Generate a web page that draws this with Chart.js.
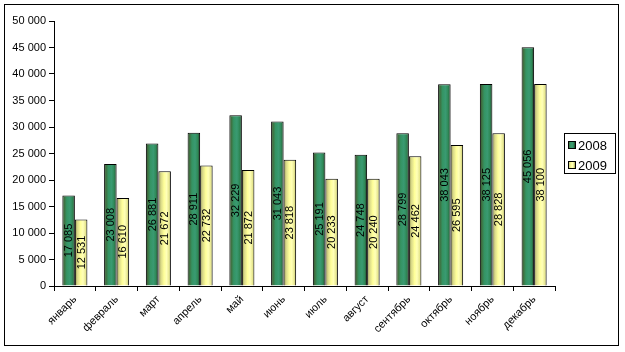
<!DOCTYPE html>
<html><head><meta charset="utf-8">
<script src="https://cdn.jsdelivr.net/npm/chart.js@4/dist/chart.umd.min.js"></script>
<style>html,body{margin:0;padding:0;background:#fff}#wrap{width:625px;height:352px;position:relative}</style>
</head><body><div id="wrap"><canvas id="c" width="625" height="352"></canvas></div>
<script>
const categories = ['январь','февраль','март','апрель','май','июнь','июль','август','сентябрь','октябрь','ноябрь','декабрь'];
const series2008 = [17085, 23008, 26881, 28911, 32229, 31043, 25191, 24748, 28799, 38043, 38125, 45056];
const series2009 = [12531, 16610, 21672, 22732, 21872, 23818, 20233, 20240, 24462, 26595, 28828, 38100];
const seriesNames = ['2008', '2009'];
const yTicks = [0, 5000, 10000, 15000, 20000, 25000, 30000, 35000, 40000, 45000, 50000];

const FONT = '"Liberation Sans", Arial, sans-serif';
const CAT_PCT = 0.6;
const gradStops = [
  [[0,'#2b4f2c'],[0.15,'#3f6f3f'],[0.35,'#349463'],[0.6,'#3a9a72'],[0.8,'#2f8a58'],[1,'#263f28']],
  [[0,'#8d8d4a'],[0.2,'#d8d888'],[0.45,'#ffff99'],[0.65,'#ffffb8'],[0.85,'#e8e890'],[1,'#9a9a55']]
];
const solid = ['#339966', '#ffff99'];

function fmt(v){ return String(v).replace(/\B(?=(\d{3})+(?!\d))/g, ' '); }

function barFill(c){
  const chart = c.chart, xs = chart.scales && chart.scales.x;
  if (!xs || !chart.chartArea || c.dataIndex === undefined) return solid[c.datasetIndex];
  const catW = xs.width / categories.length;
  const barW = catW * CAT_PCT / 2;
  const center = xs.getPixelForValue(c.dataIndex);
  const left = center - catW * CAT_PCT / 2 + c.datasetIndex * barW;
  const g = chart.ctx.createLinearGradient(left, 0, left + barW, 0);
  gradStops[c.datasetIndex].forEach(s => g.addColorStop(s[0], s[1]));
  return g;
}

const extras = {
  id: 'extras',
  afterDatasetsDraw(chart){
    const ctx = chart.ctx;
    ctx.save();
    ctx.fillStyle = '#000';
    ctx.font = '11px ' + FONT;
    ctx.textAlign = 'center';
    ctx.textBaseline = 'middle';
    chart.data.datasets.forEach((ds, di) => {
      const meta = chart.getDatasetMeta(di);
      meta.data.forEach((el, i) => {
        const cy = (el.y + el.base) / 2;
        ctx.save();
        ctx.translate(el.x + 0.5, cy);
        ctx.rotate(-Math.PI / 2);
        ctx.fillText(fmt(ds.data[i]), 0, 0);
        ctx.restore();
      });
    });
    ctx.restore();
  },
  afterDraw(chart){
    const ctx = chart.ctx;
    ctx.save();
    ctx.strokeStyle = '#000';
    ctx.lineWidth = 1;
    ctx.strokeRect(4.5, 4.5, 614, 341);
    // legend
    ctx.strokeRect(564.5, 133.5, 51, 40);
    const ys = [145, 165];
    ctx.font = '13px ' + FONT;
    ctx.textBaseline = 'middle';
    ctx.textAlign = 'left';
    seriesNames.forEach((n, i) => {
      const sq = ctx.createLinearGradient(568, 0, 575, 0);
      gradStops[i].forEach(s => sq.addColorStop(s[0], s[1]));
      ctx.fillStyle = sq;
      ctx.fillRect(568, ys[i] - 3, 7, 7);
      ctx.strokeRect(568.5, ys[i] - 3.5, 7, 7);
      ctx.fillStyle = '#000';
      ctx.fillText(n, 578, ys[i] + 1);
    });
    ctx.restore();
  }
};

new Chart(document.getElementById('c'), {
  type: 'bar',
  data: {
    labels: categories,
    datasets: [
      { label: seriesNames[0], data: series2008, backgroundColor: barFill, borderColor: '#000', borderWidth: 1, borderSkipped: 'bottom' },
      { label: seriesNames[1], data: series2009, backgroundColor: barFill, borderColor: '#000', borderWidth: 1, borderSkipped: 'bottom' }
    ]
  },
  options: {
    responsive: false,
    animation: false,
    devicePixelRatio: 1,
    datasets: { bar: { categoryPercentage: CAT_PCT, barPercentage: 1 } },
    layout: { padding: { left: 0, right: 70, top: 21, bottom: 0 } },
    plugins: { legend: { display: false }, tooltip: { enabled: false } },
    scales: {
      x: {
        offset: true,
        grid: { display: true, offset: true, drawOnChartArea: false, tickLength: 5, color: '#000' },
        border: { color: '#000', width: 1 },
        ticks: { color: '#000', font: { family: FONT, size: 11 }, minRotation: 45, maxRotation: 45, padding: 2, autoSkip: false },
        afterFit(s){ s.height = 66; }
      },
      y: {
        min: 0, max: 50000,
        afterBuildTicks(s){ s.ticks = yTicks.map(v => ({ value: v })); },
        grid: { display: true, drawOnChartArea: false, tickLength: 5, color: '#000' },
        border: { color: '#000', width: 1 },
        ticks: { color: '#000', font: { family: FONT, size: 11 }, padding: 3, callback: v => fmt(v) },
        afterFit(s){ s.width = 54; }
      }
    }
  },
  plugins: [extras]
});
</script></body></html>
